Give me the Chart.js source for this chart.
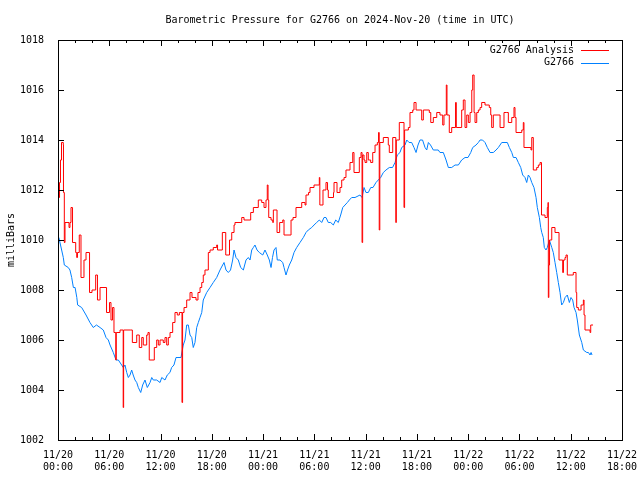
<!DOCTYPE html>
<html>
<head>
<meta charset="utf-8">
<script src="https://cdn.jsdelivr.net/npm/chart.js@4/dist/chart.umd.min.js"></script>
<style>
  html, body { margin: 0; padding: 0; background: #fff; }
  #wrap { width: 640px; height: 480px; }
</style>
</head>
<body>
<div id="wrap"><canvas id="pressureChart" width="640" height="480"></canvas></div>
<script>
// hours since 2024-11-20 00:00 UTC, pressure in mb
const stationHours = [
  0.10, 0.62, 0.74, 1.20, 1.40, 1.60, 1.80, 2.00, 2.20, 2.30, 2.77, 3.28, 3.74, 4.13, 4.50, 4.92,
  5.30, 5.62, 5.89, 6.09, 6.47, 6.79, 7.06, 7.45, 7.64, 7.84, 8.04, 8.23, 8.43, 8.62, 8.80, 9.01,
  9.21, 9.40, 9.68, 9.91, 10.18, 10.45, 10.77, 10.97, 11.15, 11.55, 11.94, 12.14, 12.52, 12.79, 13.10, 13.30,
  13.57, 13.81, 14.04, 14.39, 14.66, 14.86, 15.06, 15.25, 15.45, 15.65, 15.83, 16.03, 16.23, 16.42, 16.62, 16.82,
  17.00, 17.40, 17.79, 18.17, 18.57, 18.96, 19.27, 19.43, 19.66, 19.93, 20.19, 20.44, 20.60, 20.83, 21.10, 21.38,
  21.69, 22.00, 22.27, 22.47, 22.67, 22.86, 23.05, 23.29, 23.56, 23.96, 24.22, 24.49, 24.73, 24.93, 25.10, 25.28,
  25.51, 25.66, 25.98, 26.30, 26.45, 26.68, 26.86, 27.07, 27.35, 27.62, 27.93, 28.32, 28.71, 29.02, 29.29, 29.69,
  29.96, 30.27, 30.58, 30.86, 31.13, 31.36, 31.63, 31.91, 32.22, 32.50, 32.80, 33.08, 33.32, 33.59, 33.86, 34.09,
  34.37, 34.76, 35.34, 35.58, 35.81, 36.04, 36.31, 36.60, 36.86, 37.21, 37.48, 37.76, 38.07, 38.38, 38.77, 39.15,
  39.44, 39.71, 40.02, 40.22, 40.61, 40.81, 41.08, 41.39, 41.66, 41.90, 42.13, 42.36, 42.66, 42.95, 43.15, 43.34,
  43.59, 43.92, 44.24, 44.50, 44.70, 45.09, 45.41, 45.68, 46.07, 46.46, 46.85, 47.24, 47.63, 47.98, 48.30, 48.53,
  48.92, 49.19, 49.39, 49.68, 49.97, 50.24, 50.56, 50.94, 51.26, 51.53, 51.73, 51.93, 52.31, 52.58, 52.82, 53.10,
  53.29, 53.60, 53.87, 54.15, 54.38, 54.65, 54.85, 55.04, 55.24, 55.44, 55.70, 55.94, 56.09, 56.33, 56.49, 56.61,
  56.79, 56.91, 57.11, 57.26, 57.50, 57.78, 57.96, 58.16, 58.36, 58.55, 58.75, 58.94, 59.14, 59.34, 59.60, 59.84,
  60.03, 60.23, 60.39, 60.62, 60.77, 61.01, 61.29, 61.48, 61.88, 62.07, 62.26, 62.38, 62.49
]
const stationValues = [
  1010.1, 1009.3, 1009.0, 1008.9, 1008.8, 1008.5, 1008.1, 1008.1, 1007.7, 1007.4, 1007.3, 1007.0, 1006.7, 1006.5, 1006.6, 1006.5,
  1006.4, 1006.1, 1006.0, 1005.8, 1005.5, 1005.2, 1005.2, 1005.0, 1004.9, 1005.0, 1004.7, 1004.5, 1004.6, 1004.8, 1004.6, 1004.4,
  1004.3, 1004.1, 1003.9, 1004.2, 1004.4, 1004.1, 1004.3, 1004.5, 1004.4, 1004.4, 1004.3, 1004.5, 1004.4, 1004.6, 1004.7, 1004.9,
  1005.0, 1005.3, 1005.3, 1005.3, 1005.8, 1006.0, 1006.6, 1006.6, 1006.2, 1006.1, 1005.7, 1005.9, 1006.5, 1006.7, 1006.9, 1007.1,
  1007.6, 1007.9, 1008.1, 1008.3, 1008.5, 1008.8, 1009.0, 1009.1, 1008.8, 1008.7, 1008.8, 1009.2, 1009.6, 1009.3, 1009.2, 1008.9,
  1008.8, 1009.2, 1009.3, 1009.2, 1009.6, 1009.7, 1009.8, 1009.6, 1009.5, 1009.4, 1009.6, 1009.4, 1009.2, 1008.9, 1009.3, 1009.6,
  1009.7, 1009.2, 1009.2, 1009.1, 1008.9, 1008.6, 1008.8, 1009.0, 1009.2, 1009.5, 1009.7, 1009.9, 1010.1, 1010.3, 1010.4, 1010.5,
  1010.6, 1010.7, 1010.8, 1010.7, 1010.9, 1010.9, 1010.7, 1010.7, 1010.6, 1010.8, 1010.7, 1011.0, 1011.3, 1011.4, 1011.5, 1011.6,
  1011.7, 1011.7, 1011.8, 1011.7, 1012.1, 1011.9, 1011.9, 1012.1, 1012.1, 1012.3, 1012.4, 1012.5, 1012.7, 1012.8, 1012.9, 1012.9,
  1013.1, 1013.4, 1013.5, 1013.7, 1013.8, 1014.0, 1013.9, 1013.9, 1013.7, 1013.5, 1013.8, 1014.0, 1014.0, 1013.7, 1013.6, 1013.9,
  1013.8, 1013.6, 1013.6, 1013.6, 1013.5, 1013.5, 1013.2, 1012.9, 1012.9, 1013.0, 1013.0, 1013.2, 1013.3, 1013.3, 1013.5, 1013.7,
  1013.8, 1013.9, 1014.0, 1014.0, 1013.9, 1013.7, 1013.5, 1013.5, 1013.6, 1013.7, 1013.8, 1013.9, 1013.9, 1013.9, 1013.7, 1013.5,
  1013.3, 1013.3, 1013.1, 1012.9, 1012.6, 1012.5, 1012.3, 1012.6, 1012.5, 1012.3, 1012.1, 1011.7, 1011.3, 1010.9, 1010.5, 1010.3,
  1010.1, 1009.7, 1009.6, 1009.7, 1010.0, 1009.7, 1009.5, 1009.1, 1008.7, 1008.3, 1007.9, 1007.4, 1007.5, 1007.7, 1007.8, 1007.5,
  1007.7, 1007.6, 1007.3, 1007.1, 1006.8, 1006.2, 1005.9, 1005.6, 1005.5, 1005.5, 1005.4, 1005.5, 1005.4
]

// analysis series: each entry is the value from that hour onward (drawn as steps)
const analysisHours = [
  0.06, 0.18, 0.29, 0.41, 0.62, 0.64, 0.74, 0.82, 1.17, 1.29, 1.40, 1.52, 1.67, 1.70, 1.99, 2.07,
  2.19, 2.28, 2.49, 2.66, 2.69, 2.96, 3.04, 3.28, 3.66, 3.69, 3.98, 4.41, 4.60, 4.62, 4.86, 4.92,
  5.68, 6.03, 6.20, 6.38, 6.55, 6.76, 6.82, 7.26, 7.63, 7.68, 8.51, 8.70, 9.21, 9.51, 9.80, 9.98,
  10.38, 10.53, 10.68, 11.27, 11.55, 11.74, 11.94, 12.32, 12.52, 12.72, 12.91, 13.11, 13.42, 13.69, 13.96, 14.20,
  14.51, 14.58, 14.75, 15.06, 15.45, 15.68, 16.15, 16.38, 16.62, 16.82, 17.00, 17.20, 17.59, 17.79, 18.17, 18.57,
  18.67, 19.23, 19.63, 20.07, 20.33, 20.60, 20.71, 21.50, 21.77, 22.55, 22.86, 23.44, 23.84, 24.11, 24.34, 24.49,
  24.58, 24.66, 24.93, 25.13, 25.20, 25.63, 25.94, 26.30, 26.45, 27.27, 27.50, 27.85, 28.52, 28.91, 29.02, 29.32,
  29.49, 29.96, 30.58, 30.64, 31.01, 31.36, 31.54, 31.63, 32.24, 32.30, 32.65, 33.00, 33.20, 33.47, 33.70, 34.17,
  34.49, 34.64, 35.26, 35.46, 35.58, 35.65, 35.81, 35.93, 36.13, 36.31, 36.59, 36.83, 37.10, 37.37, 37.51, 37.59,
  37.66, 38.07, 38.65, 38.77, 39.17, 39.53, 39.59, 39.94, 40.49, 40.56, 41.00, 41.19, 41.51, 41.66, 41.90, 42.36,
  42.56, 42.75, 43.45, 43.62, 43.92, 44.32, 44.70, 45.02, 45.17, 45.44, 45.52, 45.79, 46.07, 46.52, 46.61, 47.04,
  47.24, 47.43, 47.63, 47.83, 48.02, 48.22, 48.42, 48.53, 48.69, 48.80, 49.00, 49.19, 49.39, 49.58, 49.97, 50.47,
  50.64, 50.75, 50.94, 51.73, 52.19, 52.51, 52.70, 53.10, 53.36, 53.48, 53.60, 54.27, 54.45, 54.53, 55.35, 55.44,
  55.62, 56.02, 56.21, 56.41, 56.58, 56.99, 57.26, 57.34, 57.38, 57.44, 57.52, 57.78, 58.16, 58.63, 59.06, 59.15,
  59.33, 59.45, 59.60, 60.30, 60.62, 60.70, 60.89, 61.21, 61.48, 61.56, 61.67, 62.26, 62.34, 62.61
]
const analysisValues = [
  1011.7, 1012.3, 1013.2, 1013.9, 1013.8, 1011.9, 1009.9, 1010.7, 1010.7, 1010.5, 1010.7, 1011.3, 1011.3, 1009.9, 1009.9, 1009.5,
  1009.3, 1009.5, 1010.2, 1010.2, 1008.5, 1008.5, 1009.2, 1009.5, 1009.5, 1007.9, 1008.0, 1008.6, 1008.6, 1007.6, 1007.6, 1008.1,
  1007.1, 1007.5, 1006.8, 1007.3, 1006.3, 1005.2, 1006.3, 1006.4, 1003.3, 1006.4, 1006.4, 1005.9, 1006.2, 1005.7, 1006.1, 1005.8,
  1006.2, 1006.3, 1005.2, 1005.7, 1006.0, 1005.8, 1006.0, 1005.9, 1006.1, 1005.8, 1006.1, 1006.3, 1006.7, 1007.1, 1007.0, 1007.1,
  1003.5, 1007.1, 1007.3, 1007.6, 1007.9, 1007.7, 1007.6, 1007.9, 1008.1, 1008.3, 1008.6, 1008.8, 1009.5, 1009.6, 1009.7, 1009.8,
  1009.6, 1010.3, 1009.4, 1010.0, 1010.3, 1010.6, 1010.7, 1010.9, 1010.8, 1011.1, 1011.3, 1011.6, 1011.5, 1011.3, 1011.6, 1012.2,
  1011.6, 1010.9, 1010.8, 1010.7, 1011.2, 1010.3, 1010.7, 1010.8, 1010.2, 1010.8, 1010.9, 1011.3, 1011.5, 1011.4, 1011.8, 1011.9,
  1012.1, 1012.2, 1012.5, 1011.4, 1012.0, 1012.3, 1012.0, 1011.7, 1011.9, 1012.3, 1011.9, 1012.1, 1012.4, 1012.5, 1012.8, 1013.1,
  1013.5, 1012.7, 1013.3, 1013.5, 1009.9, 1013.4, 1013.2, 1013.1, 1013.5, 1013.2, 1013.1, 1013.5, 1013.8, 1013.9, 1014.3, 1010.4,
  1013.9, 1014.1, 1013.8, 1013.5, 1014.1, 1010.7, 1014.0, 1014.7, 1011.3, 1014.4, 1014.5, 1015.1, 1015.2, 1015.5, 1015.2, 1015.2,
  1014.8, 1015.2, 1015.1, 1014.7, 1014.9, 1015.1, 1015.0, 1014.6, 1015.0, 1016.2, 1015.0, 1014.3, 1014.5, 1015.5, 1014.5, 1014.5,
  1015.2, 1015.6, 1014.5, 1015.0, 1014.7, 1015.1, 1016.0, 1016.6, 1015.1, 1014.7, 1015.1, 1015.2, 1015.3, 1015.5, 1015.4, 1015.3,
  1015.0, 1014.5, 1015.0, 1014.5, 1015.1, 1015.1, 1014.7, 1014.9, 1015.3, 1014.9, 1014.3, 1014.4, 1014.7, 1013.7, 1013.6, 1014.1,
  1012.8, 1012.9, 1013.0, 1013.1, 1011.0, 1010.9, 1011.3, 1011.5, 1007.7, 1009.0, 1010.0, 1010.5, 1010.3, 1009.2, 1008.7, 1009.2,
  1009.3, 1009.4, 1008.6, 1008.7, 1007.9, 1007.3, 1007.2, 1007.4, 1007.6, 1007.0, 1006.4, 1006.3, 1006.6, 1006.6
]

const seriesLabels = ['G2766 Analysis', 'G2766']
const seriesColors = ['#ff0000', '#0080ff']
const xTickHours = [0, 6, 12, 18, 24, 30, 36, 42, 48, 54, 60, 66]
const yTicks = [1002, 1004, 1006, 1008, 1010, 1012, 1014, 1016, 1018]

const FONT = 'DejaVu Sans Mono, Liberation Mono, monospace'

function toPoints (hours, values) {
  return hours.map((h, i) => ({ x: h, y: values[i] }))
}

function hourLabel (v) {
  const day = 20 + Math.floor(v / 24)
  const hh = String(v % 24).padStart(2, '0')
  return [`11/${day}`, `${hh}:00`]
}

// gnuplot-ish frame: border, inward ticks on all sides, title, legend
const framePlugin = {
  id: 'frame',
  afterDatasetsDraw (chart) {
    const { ctx, chartArea: a, scales } = chart
    ctx.save()
    ctx.strokeStyle = '#000'
    ctx.lineWidth = 1
    ctx.beginPath()
    for (let h = 0; h <= 66; h += 2) {
      const x = Math.round(scales.x.getPixelForValue(h)) + 0.5
      const len = h % 6 === 0 ? 6 : 3
      ctx.moveTo(x, a.bottom); ctx.lineTo(x, a.bottom - len)
      ctx.moveTo(x, a.top); ctx.lineTo(x, a.top + len)
    }
    yTicks.forEach(v => {
      const y = Math.round(scales.y.getPixelForValue(v)) + 0.5
      ctx.moveTo(a.left, y); ctx.lineTo(a.left + 6, y)
      ctx.moveTo(a.right, y); ctx.lineTo(a.right - 6, y)
    })
    ctx.stroke()
    ctx.strokeRect(Math.round(a.left) + 0.5, Math.round(a.top) + 0.5,
      Math.round(a.right - a.left), Math.round(a.bottom - a.top))

    ctx.fillStyle = '#000'
    ctx.font = `10px ${FONT}`
    ctx.textBaseline = 'middle'
    ctx.textAlign = 'center'
    ctx.fillText('Barometric Pressure for G2766 on 2024-Nov-20 (time in UTC)', (a.left + a.right) / 2, 20)

    ctx.textAlign = 'right'
    chart.data.datasets.forEach((ds, i) => {
      const y = a.top + 10 + i * 12.5
      ctx.fillText(ds.label, a.right - 48, y)
      ctx.strokeStyle = ds.borderColor
      ctx.beginPath()
      ctx.moveTo(a.right - 41, Math.round(y) + 0.5)
      ctx.lineTo(a.right - 13, Math.round(y) + 0.5)
      ctx.stroke()
    })
    ctx.restore()
  }
}

new Chart(document.getElementById('pressureChart').getContext('2d'), {
  type: 'line',
  data: {
    datasets: [
      {
        label: seriesLabels[0],
        data: toPoints(analysisHours, analysisValues),
        borderColor: seriesColors[0],
        borderWidth: 1,
        stepped: true,
        pointRadius: 0
      },
      {
        label: seriesLabels[1],
        data: toPoints(stationHours, stationValues),
        borderColor: seriesColors[1],
        borderWidth: 1,
        pointRadius: 0
      }
    ]
  },
  options: {
    responsive: false,
    animation: false,
    events: [],
    layout: { padding: { left: 0, right: 18, top: 40, bottom: 0 } },
    plugins: {
      legend: { display: false },
      tooltip: { enabled: false }
    },
    scales: {
      x: {
        type: 'linear',
        min: 0,
        max: 66,
        afterBuildTicks: scale => { scale.ticks = xTickHours.map(v => ({ value: v })) },
        afterFit: scale => {
          scale.height = 40
          scale.paddingLeft = 0
          scale.paddingRight = 0
        },
        grid: { display: false },
        border: { display: false },
        ticks: {
          color: '#000',
          font: { family: FONT, size: 10 },
          padding: 1,
          maxRotation: 0,
          autoSkip: false,
          callback: v => hourLabel(v)
        }
      },
      y: {
        min: 1002,
        max: 1018,
        afterBuildTicks: scale => { scale.ticks = yTicks.map(v => ({ value: v })) },
        afterFit: scale => {
          scale.width = 58
          scale.paddingTop = 0
          scale.paddingBottom = 0
        },
        grid: { display: false },
        border: { display: false },
        title: {
          display: true,
          text: 'milliBars',
          color: '#000',
          font: { family: FONT, size: 10 },
          padding: { top: 5, bottom: 0 }
        },
        ticks: {
          color: '#000',
          font: { family: FONT, size: 10 },
          padding: 6,
          callback: v => String(v)
        }
      }
    }
  },
  plugins: [framePlugin]
})
</script>
</body>
</html>
